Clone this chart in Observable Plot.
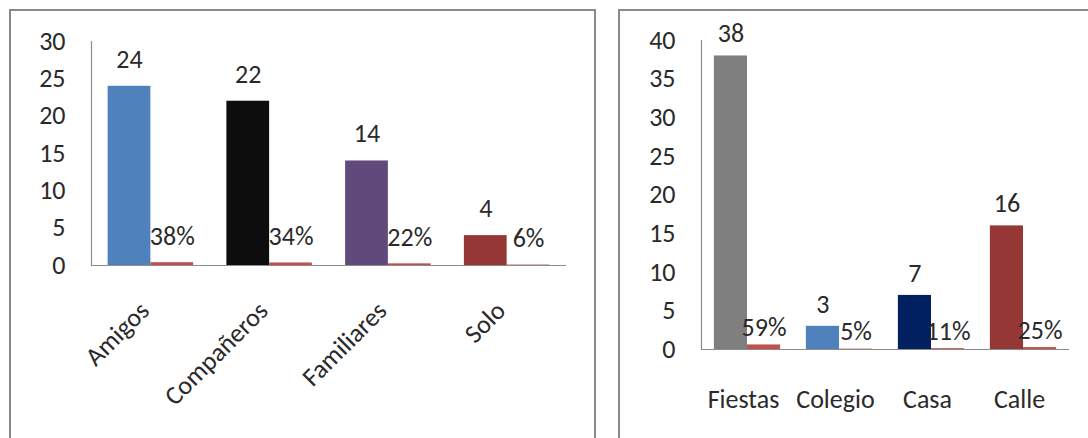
<!DOCTYPE html>
<html><head><meta charset="utf-8">
<script src="https://cdn.jsdelivr.net/npm/d3@7"></script>
<script src="https://cdn.jsdelivr.net/npm/@observablehq/plot@0.6"></script>
<style>
body{margin:0;background:#fff;}
#wrap{position:relative;width:1088px;height:438px;overflow:hidden;background:#fff;}
.panel{position:absolute;top:9px;border:2px solid #8a8a8a;height:440px;background:#fff;}
#p1{left:9px;width:583px;}
#p2{left:618px;width:480px;}
</style></head><body>
<div id="wrap"><div class="panel" id="p1"></div><div class="panel" id="p2"></div></div>
<script>
// Left chart
const companyCats = ["Amigos", "Compañeros", "Familiares", "Solo"];
const companyCounts = [24, 22, 14, 4];
const companyShares = [0.38, 0.34, 0.22, 0.06];
const companyColors = ["#4F81BD", "#0D0D0D", "#604A7B", "#953735"];
const companyTicks = [0, 5, 10, 15, 20, 25, 30];

// Right chart
const placeCats = ["Fiestas", "Colegio", "Casa", "Calle"];
const placeCounts = [38, 3, 7, 16];
const placeShares = [0.59, 0.05, 0.11, 0.25];
const placeColors = ["#7F7F7F", "#4F81BD", "#002060", "#953735"];
const placeTicks = [0, 5, 10, 15, 20, 25, 30, 35, 40];

const shareColor = "#C0504D";
const axisColor = "#8c8c8c";
const FONT = "Calibri, Carlito, Lato, sans-serif";
const FS = 26;
const INK = "#2a2a2a";

function chart(o) {
  const data = o.cats.map((c, i) => ({cat: c, count: o.counts[i], share: o.shares[i], color: o.colors[i]}));
  const pi = 0.28, po = 0.14;
  const step = (o.width - o.ml - o.mr) / (o.cats.length - pi + 2 * po);
  const half = step * (1 - pi) / 2;
  const labelOpts = {x: "cat", y: () => 0, text: "cat", dx: o.labelDx, dy: o.labelDy, fontSize: FS, fill: INK};
  if (o.rotate) Object.assign(labelOpts, {rotate: o.rotate, textAnchor: "end"});
  return Plot.plot({
    width: o.width, height: o.height,
    marginLeft: o.ml, marginRight: o.mr, marginTop: o.mt, marginBottom: o.mb,
    style: {fontFamily: FONT, fontSize: FS + "px", background: "transparent", overflow: "visible", color: INK},
    x: {type: "band", domain: o.cats, paddingInner: pi, paddingOuter: po, round: false, axis: null},
    y: {domain: [0, o.yMax], axis: null},
    color: {type: "identity"},
    marks: [
      Plot.barY(data, {x: "cat", y: "count", fill: "color", insetRight: half}),
      Plot.barY(data, {x: "cat", y: "share", fill: shareColor, insetLeft: half}),
      Plot.ruleY([0], {stroke: axisColor, strokeWidth: 1.2}),
      Plot.frame({anchor: "left", stroke: axisColor, strokeWidth: 1.2}),
      Plot.axisY({ticks: o.ticks, tickSize: 0, tickPadding: 26, tickFormat: d => String(d), fontSize: FS, fill: INK}),
      Plot.text(data, {x: "cat", y: "count", text: d => String(d.count), dx: -half / 2, dy: o.valueDy, fontSize: FS, fill: INK}),
      Plot.text(data, {x: "cat", y: "share", text: d => Math.round(d.share * 100) + "%", dx: half / 2, dy: o.shareDy, fontSize: FS, fill: INK}),
      Plot.text(data, labelOpts)
    ]
  });
}

document.getElementById("p1").appendChild(chart({
  cats: companyCats, counts: companyCounts, shares: companyShares, colors: companyColors,
  ticks: companyTicks, yMax: 30, width: 583, height: 429, ml: 80, mr: 28, mt: 30, mb: 175,
  valueDy: -27, shareDy: -26, rotate: -45, labelDx: -6, labelDy: 41
}));
document.getElementById("p2").appendChild(chart({
  cats: placeCats, counts: placeCounts, shares: placeShares, colors: placeColors,
  ticks: placeTicks, yMax: 40, width: 480, height: 429, ml: 81, mr: 31, mt: 29, mb: 91,
  valueDy: -22, shareDy: -17, labelDx: -4, labelDy: 50
}));
</script>
</body></html>
